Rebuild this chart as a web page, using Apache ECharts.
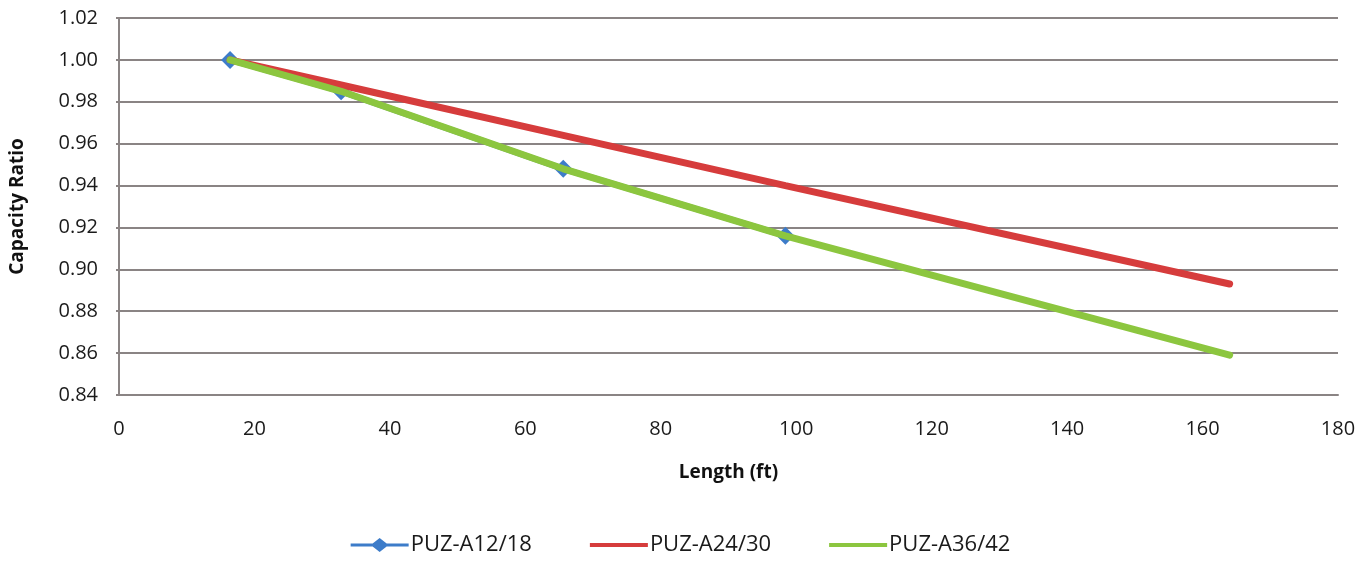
<!DOCTYPE html>
<html><head><meta charset="utf-8">
<script src="https://cdn.jsdelivr.net/npm/echarts@6/dist/echarts.min.js"></script>
<style>html,body{margin:0;padding:0;background:#fff}#c{width:1361px;height:561px}</style>
</head><body><div id="c"></div>
<script>
const lengthsFt = [16.4, 32.8, 65.6, 98.4, 164];
const seriesNames = ['PUZ-A12/18', 'PUZ-A24/30', 'PUZ-A36/42'];
const puzA12_18 = [1.000, 0.985, 0.948, 0.916];
const puzA24_30 = [1.000, 0.988, 0.964, 0.940, 0.893];
const puzA36_42 = [1.000, 0.985, 0.948, 0.916, 0.859];
const xTicks = [0, 20, 40, 60, 80, 100, 120, 140, 160, 180];
const yTicks = [0.84, 0.86, 0.88, 0.90, 0.92, 0.94, 0.96, 0.98, 1.00, 1.02];

const pairs = (xs, ys) => ys.map((y, i) => [xs[i], y]);
const font = 'Open Sans, Noto Sans, DejaVu Sans, sans-serif';
const iconDiamondLine = 'path://M0,0L0,0M0,5.5L22,5.5L29,0L36,5.5L58,5.5L58,8.5L36,8.5L29,14L22,8.5L0,8.5ZM58,14L58,14';
const iconLine = 'path://M0,0L0,0M0,5L58,5L58,9L0,9ZM58,14L58,14';
const chart = echarts.init(document.getElementById('c'));
chart.setOption({
  animation: false,
  backgroundColor: '#fff',
  grid: { left: 116, right: 23, top: 18, bottom: 166, containLabel: false },
  legend: {
    bottom: 0, left: 'center', itemGap: 58, itemWidth: 60, itemHeight: 14,
    textStyle: { fontFamily: font, fontSize: 22, color: '#1a1a1a', padding: [0,0,0,-4] },
    data: [
      { name: seriesNames[0], icon: iconDiamondLine },
      { name: seriesNames[1], icon: iconLine },
      { name: seriesNames[2], icon: iconLine }
    ]
  },
  xAxis: {
    type: 'value', min: xTicks[0], max: xTicks[xTicks.length-1], interval: 20,
    name: 'Length (ft)', nameLocation: 'middle', nameGap: 68,
    nameTextStyle: { fontFamily: font, fontSize: 19, fontWeight: 'bold', color: '#111' },
    axisLine: { show: true, lineStyle: { color: '#8a8484', width: 2 } },
    axisTick: { show: false },
    splitLine: { show: false },
    axisLabel: { fontFamily: font, fontSize: 20, color: '#1a1a1a', margin: 24 }
  },
  yAxis: {
    type: 'value', min: 0.84, max: 1.02, interval: 0.02,
    name: 'Capacity Ratio', nameLocation: 'middle', nameGap: 92, nameRotate: 90,
    nameTextStyle: { fontFamily: font, fontSize: 19, fontWeight: 'bold', color: '#111' },
    axisLine: { show: true, lineStyle: { color: '#8a8484', width: 2 } },
    axisTick: { show: true, length: 3, lineStyle: { color: '#8a8484', width: 2 } },
    splitLine: { show: true, lineStyle: { color: '#8a8484', width: 2 } },
    axisLabel: { fontFamily: font, fontSize: 20, color: '#1a1a1a', margin: 21,
      formatter: v => v.toFixed(2) }
  },
  series: [
    { name: seriesNames[0], type: 'line', data: pairs(lengthsFt, puzA12_18),
      symbol: 'diamond', symbolSize: 18, showSymbol: true,
      itemStyle: { color: '#3d7cc9' }, lineStyle: { color: '#3d7cc9', width: 6 }, z: 2 },
    { name: seriesNames[1], type: 'line', data: pairs(lengthsFt, puzA24_30),
      symbol: 'none', itemStyle: { color: '#d63c3c' }, lineStyle: { color: '#d63c3c', width: 7, cap: 'round' }, z: 3 },
    { name: seriesNames[2], type: 'line', data: pairs(lengthsFt, puzA36_42),
      symbol: 'none', itemStyle: { color: '#8cc63f' }, lineStyle: { color: '#8cc63f', width: 7, cap: 'round' }, z: 4 }
  ]
});
</script></body></html>
